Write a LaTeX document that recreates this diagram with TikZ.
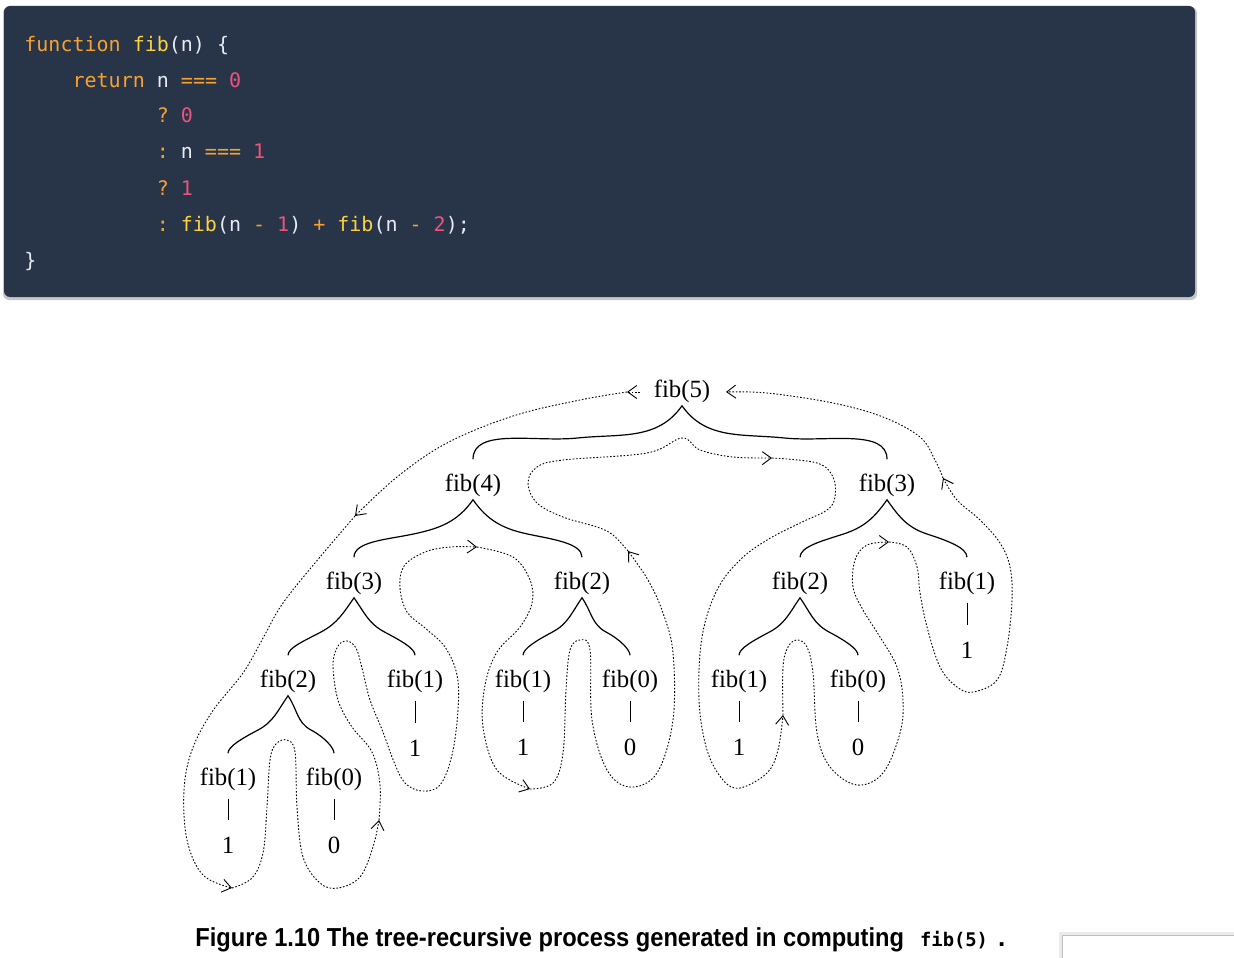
\documentclass[tikz,border=0pt]{standalone}
\usepackage{fontspec}
\usepackage{graphicx}
\usepackage{xcolor}
\usetikzlibrary{arrows.meta,calc}
\setmainfont{Liberation Serif}
\newfontfamily\codefont{DejaVu Sans Mono}
\newfontfamily\capfont{Liberation Sans}
\definecolor{sicpnavy}{RGB}{40, 53, 72}
\definecolor{sicporange}{RGB}{247, 162, 48}
\definecolor{sicpyellow}{RGB}{252, 210, 64}
\definecolor{sicppink}{RGB}{240, 82, 122}
\definecolor{sicpwhite}{RGB}{232, 236, 241}
\frenchspacing

\newcommand{\kw}[1]{\textcolor{sicporange}{#1}}
\newcommand{\fn}[1]{\textcolor{sicpyellow}{#1}}
\newcommand{\nm}[1]{\textcolor{sicppink}{#1}}

\tikzset{
  call/.style={font=\fontsize{12.4}{14}\selectfont, inner sep=1.5pt},
  twig/.style={line width=0.6pt, shorten <=5.5pt, shorten >=5.5pt},
  stem/.style={line width=0.5pt, shorten <=2.5pt, shorten >=6.8pt},
  trail/.style={line width=0.45pt, dash pattern=on 0.8pt off 0.9pt,
    -{Straight Barb[length=4.5pt,width=6.5pt,line width=0.45pt]}},
  codeline/.style={anchor=base west, inner sep=0pt, text=sicpwhite,
    font=\codefont\fontsize{10}{12}\selectfont},
}

\begin{document}
\begin{tikzpicture}[x=0.5pt, y=-0.5pt]
\useasboundingbox (0,0) rectangle (1234,957);
\fill[white] (0,0) rectangle (1234,957);

% code block
\fill[black!22, rounded corners=3pt] (3,7) rectangle (1197,300);
\fill[sicpnavy, rounded corners=3pt] (4,6) rectangle (1195,297);
\node[codeline] (ln1) at (24,52) {\kw{function} \fn{fib}(n) \{};
\node[codeline] (ln2) at (72.2,87.5) {\kw{return} n \kw{===} \nm{0}};
\node[codeline] (ln3) at (156.4,123) {\kw{?} \nm{0}};
\node[codeline] (ln4) at (156.4,159) {\kw{:} n \kw{===} \nm{1}};
\node[codeline] (ln5) at (156.4,195) {\kw{?} \nm{1}};
\node[codeline] (ln6) at (156.4,231) {\kw{:} \fn{fib}(n \kw{-} \nm{1}) \kw{+} \fn{fib}(n \kw{-} \nm{2});};
\node[codeline] (ln7) at (24,267) {\}};

% the tree
\node[call] (f5) at (682,391) {fib(5)};
\node[call] (f4) at (473,485) {fib(4)};
\node[call] (f3b) at (887,485) {fib(3)};
\node[call] (f3a) at (354,583) {fib(3)};
\node[call] (f2a) at (582,583) {fib(2)};
\node[call] (f2b) at (800,583) {fib(2)};
\node[call] (f1e) at (967,583) {fib(1)};
\node[call] (f2c) at (288,681) {fib(2)};
\node[call] (f1a) at (415,681) {fib(1)};
\node[call] (f1b) at (523,681) {fib(1)};
\node[call] (f0b) at (630,681) {fib(0)};
\node[call] (f1c) at (739,681) {fib(1)};
\node[call] (f0c) at (858,681) {fib(0)};
\node[call] (f1d) at (228,779) {fib(1)};
\node[call] (f0d) at (334,779) {fib(0)};

\node[call] (v1e) at (967,650) {1};
\node[call] (v1a) at (415,748) {1};
\node[call] (v1b) at (523,747) {1};
\node[call] (v0b) at (630,747) {0};
\node[call] (v1c) at (739,747) {1};
\node[call] (v0c) at (858,747) {0};
\node[call] (v1d) at (228,845) {1};
\node[call] (v0d) at (334,845) {0};

\foreach \p/\l/\r/\s in {f5/f4/f3b/6, f4/f3a/f2a/12, f3b/f2b/f1e/18,
    f3a/f2c/f1a/28, f2a/f1b/f0b/28, f2b/f1c/f0c/28, f2c/f1d/f0d/28}{
  \pgfmathsetmacro\sa{180+\s}
  \pgfmathsetmacro\sb{180-\s}
  \pgfmathsetmacro\sc{-\s}
  \draw[twig] (\l.north) to[out=90,in=\sa] ($(\p.south)!.5!(\l.north)$)
    to[out=\s,in=235] (\p.south) to[out=305,in=\sb] ($(\p.south)!.5!(\r.north)$)
    to[out=\sc,in=90] (\r.north);
}

\foreach \a/\b in {f1e/v1e, f1a/v1a, f1b/v1b, f0b/v0b, f1c/v1c, f0c/v0c, f1d/v1d, f0d/v0d}
  \draw[stem] (\a) -- (\b);

% the walk round the tree
\draw[trail] (640,392) -- (627,392);
\draw[trail] plot[smooth, tension=.6] coordinates {(627,392) (580,400) (513,416) (447,443) (397,477) (355,516)};
\draw[trail] plot[smooth, tension=.6] coordinates {(355,516) (320,557) (283,603) (262,640) (243,673) (212,712) (192,750) (184,790) (187,840) (203,875) (232,888)};
\draw[trail] plot[smooth, tension=.6] coordinates {(232,888) (252,878) (263,853) (267,807) (270,760) (276,744) (287,740) (295,752) (297,807) (303,857) (320,883) (338,888) (360,877) (373,847) (379,820)};
\draw[trail] plot[smooth, tension=.6] coordinates {(379,820) (380,785) (372,752) (352,727) (338,700) (333,665) (338,646) (347,641) (356,648) (362,668) (370,700) (383,732) (394,762) (405,783) (422,791) (440,785) (452,755) (458,710) (457,675) (445,647) (425,628) (407,612) (400,588) (404,566) (425,552) (450,547) (477,547)};
\draw[trail] plot[smooth, tension=.6] coordinates {(477,547) (513,557) (530,580) (532,603) (520,627) (497,652) (485,685) (483,727) (497,770) (530,789)};
\draw[trail] plot[smooth, tension=.6] coordinates {(530,789) (553,783) (563,753) (566,690) (570,650) (580,640) (590,650) (592,720) (607,770) (630,787) (657,773) (673,720) (673,653) (663,613) (648,580) (628,551)};
\draw[trail] plot[smooth, tension=.6] coordinates {(628,551) (613,535) (597,527) (563,517) (537,503) (528,483) (537,467) (563,460) (647,453) (682,438) (700,450) (733,457) (772,458)};
\draw[trail] plot[smooth, tension=.6] coordinates {(772,458) (817,463) (833,477) (835,497) (827,510) (800,523) (767,540) (740,560) (717,590) (702,637) (699,700) (707,750) (723,780) (740,788) (767,773) (778,750) (783,715)};
\draw[trail] plot[smooth, tension=.6] coordinates {(783,715) (783,667) (788,647) (797,640) (807,647) (813,673) (817,733) (830,767) (857,785) (883,773) (900,733) (903,700) (897,667) (880,637) (863,610) (853,587) (855,560) (867,545) (889,542)};
\draw[trail] plot[smooth, tension=.6] coordinates {(889,542) (907,547) (917,567) (920,593) (927,627) (940,667) (957,687) (973,692) (997,680) (1007,647) (1012,600) (1010,567) (1000,543) (980,520) (957,500) (943,478)};
\draw[trail] plot[smooth, tension=.6] coordinates {(943,478) (935,460) (920,437) (883,417) (833,403) (767,393) (726,392)};

% caption
\node[anchor=base west, inner sep=0pt] (cap) at (195,946)
  {\capfont\bfseries\fontsize{13}{15}\selectfont\scalebox{0.91}[1]{Figure 1.10 The tree-recursive process generated in computing}\hspace{8pt}{\codefont\bfseries\fontsize{9.4}{11}\selectfont fib(5)}\hspace{5pt}.};

% corner of the next panel
\fill[black!8] (1059,932) rectangle (1250,970);
\draw[black!25, fill=white] (1062,935) rectangle (1250,970);
\end{tikzpicture}
\end{document}
